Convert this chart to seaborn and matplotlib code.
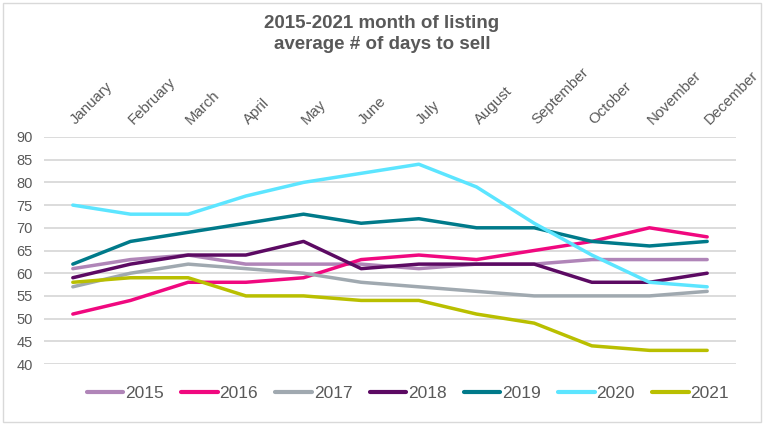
import matplotlib
matplotlib.use("Agg")
import matplotlib.pyplot as plt
import matplotlib.transforms as mtransforms
import seaborn as sns
import pandas as pd
from matplotlib.patches import Rectangle

months = ["January", "February", "March", "April", "May", "June", "July",
          "August", "September", "October", "November", "December"]
y2015 = [61, 63, 64, 62, 62, 62, 61, 62, 62, 63, 63, 63]
y2016 = [51, 54, 58, 58, 59, 63, 64, 63, 65, 67, 70, 68]
y2017 = [57, 60, 62, 61, 60, 58, 57, 56, 55, 55, 55, 56]
y2018 = [59, 62, 64, 64, 67, 61, 62, 62, 62, 58, 58, 60]
y2019 = [62, 67, 69, 71, 73, 71, 72, 70, 70, 67, 66, 67]
y2020 = [75, 73, 73, 77, 80, 82, 84, 79, 71, 64, 58, 57]
y2021 = [58, 59, 59, 55, 55, 54, 54, 51, 49, 44, 43, 43]

years = ["2015", "2016", "2017", "2018", "2019", "2020", "2021"]
series = [y2015, y2016, y2017, y2018, y2019, y2020, y2021]
colors = ["#B085B8", "#F0087F", "#A0A9B0", "#5C0A63", "#007A8A", "#5CE5FF", "#B9BF00"]

rows = []
for yr, vals in zip(years, series):
    for i, v in enumerate(vals):
        rows.append({"month": i, "year": yr, "days": v})
df = pd.DataFrame(rows)

sns.set_style("white")
plt.rcParams["font.family"] = ["Liberation Sans", "DejaVu Sans"]

fig = plt.figure(figsize=(7.68, 4.24), dpi=100)
ax = fig.add_axes([44 / 768, 1 - 364 / 424, (736 - 44) / 768, (364 - 137) / 424])

sns.lineplot(data=df, x="month", y="days", hue="year", palette=colors,
             linewidth=2.5, ax=ax, legend=False)

ax.set_xlim(-0.5, 11.5)
ax.set_ylim(40, 90)
ax.set_yticks(range(40, 91, 5))
ax.yaxis.grid(True, color="#D9D9D9", linewidth=1.3)
ax.set_axisbelow(True)
for s in ax.spines.values():
    s.set_visible(False)

ax.xaxis.tick_top()
ax.set_xticks(range(12))
ax.set_xticklabels(months, rotation=45, ha="left", va="bottom",
                   rotation_mode="anchor", fontsize=10.8, color="#595959")
ax.tick_params(axis="x", length=0, pad=7)
ax.tick_params(axis="y", length=0, labelsize=10.5, labelcolor="#595959", pad=8)
shift = mtransforms.ScaledTranslation(5 / 100, 0, fig.dpi_scale_trans)
for lab in ax.get_xticklabels():
    lab.set_transform(lab.get_transform() + shift)
ax.set_xlabel("")
ax.set_ylabel("")

handles = [plt.Line2D([], [], color=c, linewidth=3) for c in colors]
fig.legend(handles, years, loc="center", bbox_to_anchor=(408 / 768, 1 - 393 / 424),
           ncol=7, frameon=False, fontsize=12.5, handlelength=2.1,
           handletextpad=0.1, columnspacing=1.0, labelcolor="#595959",
           borderpad=0, borderaxespad=0)

fig.text(382 / 768, 1 - 34 / 424, "2015-2021 month of listing\naverage # of days to sell",
         ha="center", va="center", fontsize=13.5, fontweight="bold",
         color="#595959", linespacing=1.35)

fig.patches.append(Rectangle((3 / 768, 2 / 424), 758 / 768, 419 / 424,
                             transform=fig.transFigure, fill=False,
                             edgecolor="#D9D9D9", linewidth=1))

fig.savefig("out.png", dpi=100)
